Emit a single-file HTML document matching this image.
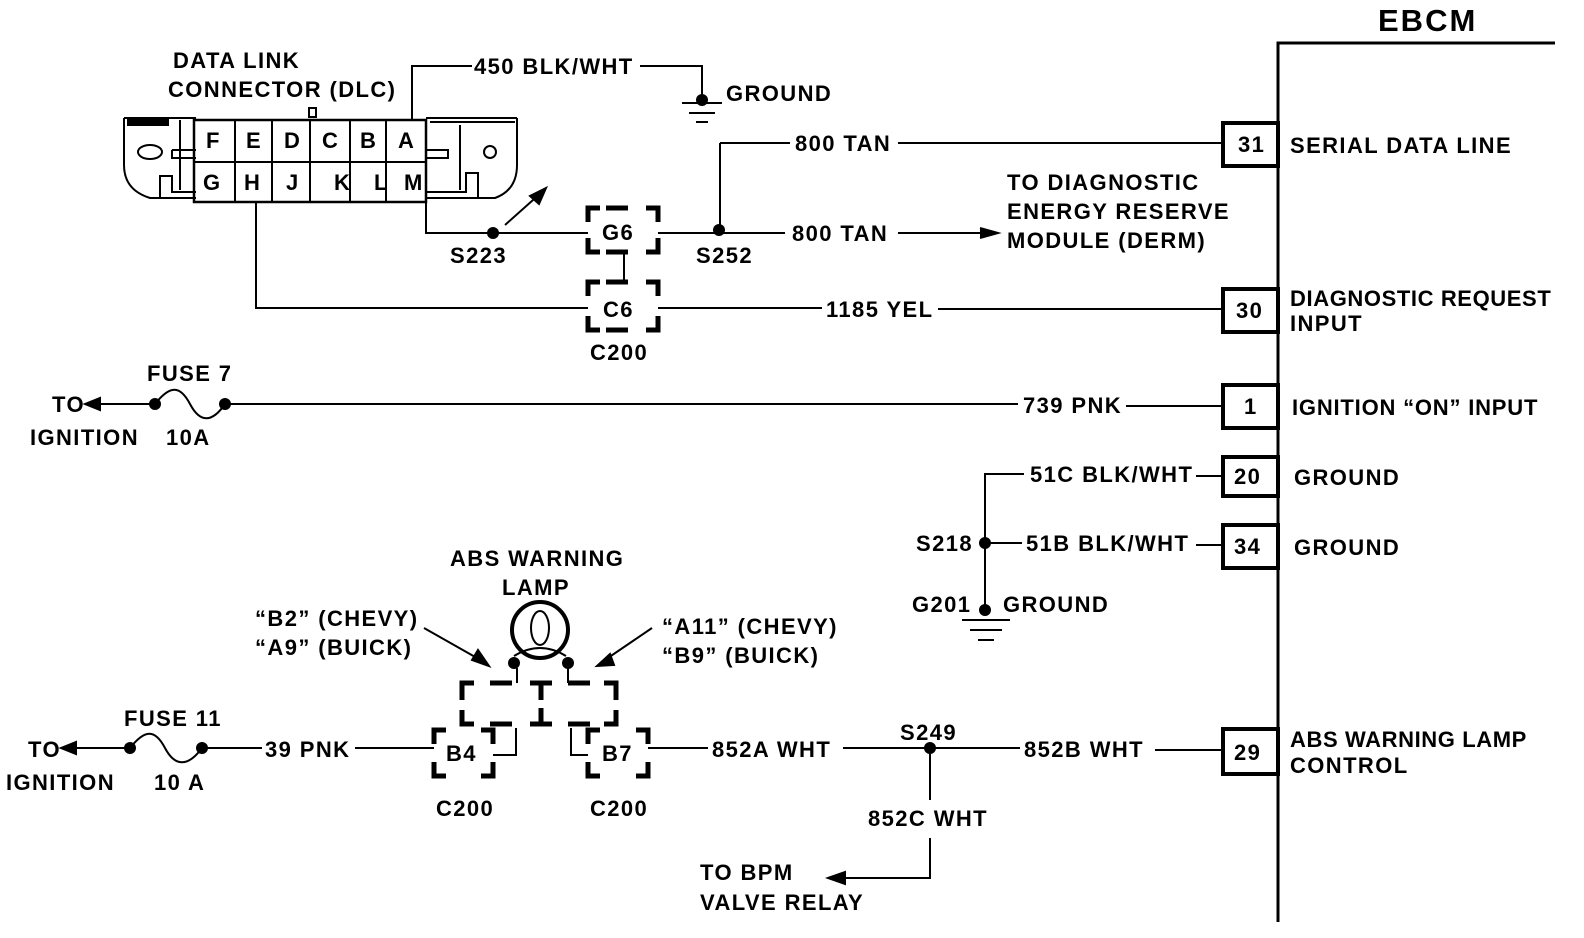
<!DOCTYPE html>
<html><head><meta charset="utf-8"><style>
html,body{margin:0;padding:0;background:#fff}
svg{display:block}
text{font-family:"Liberation Sans",sans-serif;font-weight:bold;font-size:22px;letter-spacing:1.4px;fill:#000}
</style></head><body>
<svg width="1584" height="938" viewBox="0 0 1584 938" xmlns="http://www.w3.org/2000/svg">
<g stroke="#000" stroke-width="2" fill="none">
<path d="M1278 922 V43 H1555" stroke-width="3"/>
<rect x="1223" y="123" width="55" height="43" stroke-width="4"/>
<rect x="1223" y="289" width="55" height="43" stroke-width="4"/>
<rect x="1223" y="385" width="55" height="43" stroke-width="4"/>
<rect x="1223" y="457" width="55" height="39" stroke-width="4"/>
<rect x="1223" y="525" width="55" height="43" stroke-width="4"/>
<rect x="1223" y="729" width="55" height="45" stroke-width="4"/>
<path d="M124 118 H196 M124 118 V165 Q124 190 150 198 H196"/>
<path d="M160 198 V176 H172 V192 H196 M180 120 V190 M172 150 H196 M172 150 V158 H196"/>
<rect x="128" y="120" width="40" height="5" fill="#000"/>
<ellipse cx="150" cy="152" rx="12" ry="7"/>
<path d="M426 118 H517 M517 118 V165 Q517 190 495 198 H426"/>
<path d="M478 198 V173 H466 V192 H426 M460 125 V190 M426 150 H448 V158 H426"/>
<path d="M430 122 H515"/>
<circle cx="490" cy="152" r="6"/>
<rect x="194" y="120" width="232" height="82" stroke-width="2.5"/>
<path d="M194 162 H426 M235 120 V202 M272 120 V202 M310 120 V202 M350 120 V202 M386 120 V202"/>
<rect x="309" y="108" width="7" height="9"/>
<path d="M412 120 V66 H472 M640 66 H702 V100"/>
<path d="M682 103 H722 M689 113 H715 M696 122 H708"/>
<path d="M720 143 H790 M898 143 H1223 M720 143 V232"/>
<path d="M426 202 V233 H588 M658 233 H785 M898 233 H990"/>
<path d="M980 228 L998 233 L980 238" fill="#000"/>
<path d="M505 225 L542 192"/>
<path d="M546 188 L530 196 L539 204 Z" fill="#000"/>
<path d="M624 252 V282"/>
<path d="M256 202 V308 H588 M658 308 H822 M938 309 H1223"/>
<path d="M88 404 H155 M225 404 H1018 M1126 406 H1223"/>
<path d="M85 404 L100 398 L100 410 Z" fill="#000"/>
<path d="M155 404 C170 385 180 385 190 404 C200 423 212 423 225 404"/>
<path d="M985 610 V474 H1024 M1196 476 H1223 M985 543 H1022 M1196 545 H1223"/>
<path d="M962 620 H1010 M970 630 H1002 M978 640 H994"/>
<circle cx="540" cy="630" r="28" stroke-width="4"/>
<ellipse cx="540" cy="628" rx="9" ry="17"/>
<path d="M514 656 Q540 640 566 656"/>
<path d="M517 668 V683 M568 668 V683"/>
<path d="M424 628 L484 662 M652 628 L602 662"/>
<path d="M489 666 L472 660 L478 650 Z M597 666 L610 654 L614 665 Z" fill="#000"/>
<path d="M64 748 H130 M202 748 H262 M355 748 H434 M648 748 H708 M843 748 H1020 M1155 750 H1223"/>
<path d="M61 748 L76 742 L76 754 Z" fill="#000"/>
<path d="M130 748 C145 729 155 729 165 748 C175 767 188 767 202 748"/>
<path d="M493 755 H516 V728 M588 755 H571 V728"/>
<path d="M930 748 V800 M930 838 V878 H840"/>
<path d="M828 878 L845 872 L845 884 Z" fill="#000"/>
</g>
<g stroke="#000" stroke-width="5" fill="none">
<path d="M588 222 V208 H600 M646 208 H658 V222 M658 238 V252 H646 M600 252 H588 V238 M606 208 H628 M606 252 H628"/>
<path d="M588 296 V282 H600 M646 282 H658 V296 M658 316 V330 H646 M600 330 H588 V316 M606 282 H628 M606 330 H628"/>
<path d="M434 744 V730 H446 M481 730 H493 V744 M493 762 V776 H481 M446 776 H434 V762"/>
<path d="M588 744 V730 H600 M636 730 H648 V744 M648 762 V776 H636 M600 776 H588 V762"/>
<path d="M462 700 V683 H474 M490 683 H512 M530 683 H552 M541 683 V700 M568 683 H590 M604 683 H616 V700 M462 710 V724 H474 M490 724 H512 M530 724 H552 M541 724 V708 M568 724 H590 M604 724 H616 V710"/>
</g>
<g fill="#000" stroke="none">
<circle cx="702" cy="100" r="6"/><circle cx="719" cy="230" r="6"/><circle cx="493" cy="233" r="6"/>
<circle cx="155" cy="404" r="6"/><circle cx="225" cy="404" r="6"/>
<circle cx="985" cy="543" r="6"/><circle cx="985" cy="610" r="6"/>
<circle cx="514" cy="663" r="6"/><circle cx="568" cy="663" r="6"/>
<circle cx="130" cy="748" r="6"/><circle cx="202" cy="748" r="6"/><circle cx="930" cy="748" r="6"/>
</g>
<text x="1378" y="31" style="font-size:31px;letter-spacing:2px">EBCM</text>
<text x="1238" y="152">31</text><text x="1290" y="153">SERIAL DATA LINE</text>
<text x="1236" y="318">30</text><text x="1290" y="306" style="letter-spacing:0.6px">DIAGNOSTIC REQUEST</text><text x="1290" y="331">INPUT</text>
<text x="1244" y="414">1</text><text x="1292" y="415" style="letter-spacing:0.8px">IGNITION “ON” INPUT</text>
<text x="1234" y="484">20</text><text x="1294" y="485">GROUND</text>
<text x="1234" y="554">34</text><text x="1294" y="555">GROUND</text>
<text x="1234" y="760">29</text><text x="1290" y="747" style="letter-spacing:0.6px">ABS WARNING LAMP</text><text x="1290" y="773">CONTROL</text>
<text x="173" y="68">DATA LINK</text><text x="168" y="97">CONNECTOR (DLC)</text>
<text x="206" y="148">F</text><text x="246" y="148">E</text><text x="284" y="148">D</text><text x="322" y="148">C</text><text x="360" y="148">B</text><text x="398" y="148">A</text>
<text x="203" y="190">G</text><text x="244" y="190">H</text><text x="286" y="190">J</text><text x="334" y="190">K</text><text x="374" y="190">L</text><text x="404" y="190">M</text>
<text x="474" y="74">450 BLK/WHT</text><text x="726" y="101">GROUND</text>
<text x="795" y="151">800 TAN</text><text x="792" y="241">800 TAN</text>
<text x="1007" y="190">TO DIAGNOSTIC</text><text x="1007" y="219">ENERGY RESERVE</text><text x="1007" y="248">MODULE (DERM)</text>
<text x="450" y="263">S223</text><text x="696" y="263">S252</text>
<text x="602" y="240">G6</text><text x="603" y="317">C6</text><text x="590" y="360">C200</text>
<text x="826" y="317">1185 YEL</text>
<text x="147" y="381">FUSE 7</text><text x="52" y="412">TO</text><text x="30" y="445">IGNITION</text><text x="166" y="445">10A</text>
<text x="1023" y="413">739 PNK</text>
<text x="1030" y="482">51C BLK/WHT</text><text x="916" y="551">S218</text><text x="1026" y="551">51B BLK/WHT</text>
<text x="912" y="612">G201</text><text x="1003" y="612">GROUND</text>
<text x="450" y="566">ABS WARNING</text><text x="502" y="595">LAMP</text>
<text x="255" y="626">“B2” (CHEVY)</text><text x="255" y="655">“A9” (BUICK)</text>
<text x="662" y="634">“A11” (CHEVY)</text><text x="662" y="663">“B9” (BUICK)</text>
<text x="124" y="726">FUSE 11</text><text x="28" y="757">TO</text><text x="6" y="790">IGNITION</text><text x="154" y="790">10 A</text>
<text x="265" y="757">39 PNK</text>
<text x="446" y="761">B4</text><text x="602" y="761">B7</text>
<text x="436" y="816">C200</text><text x="590" y="816">C200</text>
<text x="712" y="757">852A WHT</text><text x="900" y="740">S249</text><text x="1024" y="757">852B WHT</text>
<text x="868" y="826">852C WHT</text>
<text x="700" y="880">TO BPM</text><text x="700" y="910">VALVE RELAY</text>
</svg>
</body></html>
